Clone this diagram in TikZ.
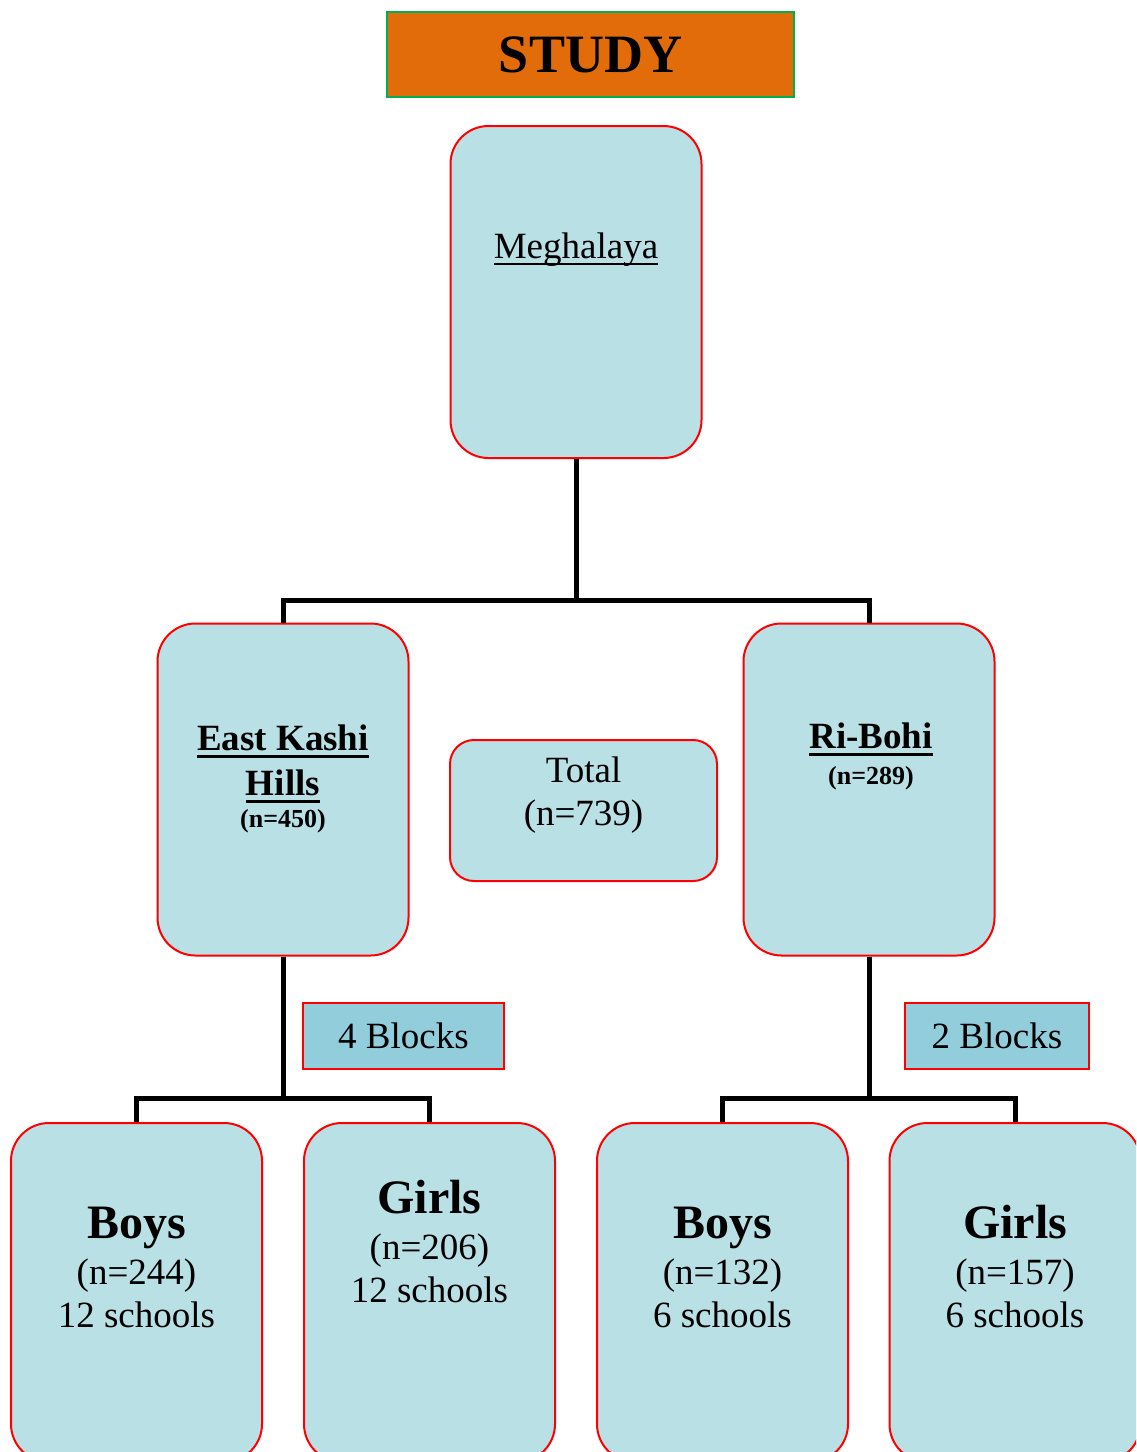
\documentclass[tikz,border=0pt]{standalone}
\usepackage{fontspec}
\setmainfont{Liberation Serif}
\usetikzlibrary{positioning}
\definecolor{boxfill}{RGB}{185,224,229}
\definecolor{blockfill}{RGB}{146,205,220}
\definecolor{studyfill}{RGB}{227,108,10}
\definecolor{studyline}{RGB}{0,176,80}
\newcommand{\ulin}[2][3pt]{\setbox0\hbox{#2}\rlap{\rule[\dimexpr-4.5pt-#1\relax]{\wd0}{#1}}\box0}

\begin{document}
\begin{tikzpicture}[x=1pt, y=-1pt,
  region/.style={draw=red, line width=2pt, fill=boxfill, rounded corners=38pt, minimum width=251pt, minimum height=332pt, inner sep=0pt},
  leaf/.style={region, minimum height=339pt},
  totalbox/.style={region, rounded corners=24pt, minimum width=267pt, minimum height=141pt},
  blocks/.style={draw=red, line width=2pt, fill=blockfill, minimum height=66pt, inner sep=0pt, font=\fontsize{37}{43}\selectfont},
  title/.style={draw=studyline, line width=2pt, fill=studyfill, minimum width=407pt, minimum height=85pt, inner sep=0pt, font=\fontsize{54}{60}\selectfont\bfseries},
  lbl/.style={anchor=base, align=center, inner sep=0pt, font=\fontsize{37}{43}\selectfont},
  link/.style={line width=5pt}
]
\path[use as bounding box, clip] (0,0) rectangle (1136,1452);

% title and top level
\node[title] (study) at (590.5,54.5) {STUDY};
\node[region] (megh) at (576,292) {};
\node[lbl] (meghtxt) at (576,258) {\ulin[2pt]{Meghalaya}};

% districts (text nodes sit on the baseline of their last line)
\node[region] (ekh) at (283,789.5) {};
\node[lbl, font=\fontsize{37}{43}\selectfont\bfseries] (ekhtxt) at (283,827)
  {\ulin{East Kashi}\\[2pt]\ulin{Hills}\\[-11pt]{\fontsize{26}{31}\selectfont (n=450)}};
\node[region] (ribohi) at (869,789.5) {};
\node[lbl, font=\fontsize{37}{43}\selectfont\bfseries] (ribohitxt) at (871,784)
  {\ulin{Ri-Bohi}\\[-7pt]{\fontsize{26}{31}\selectfont (n=289)}};
\node[totalbox] (total) at (583.5,810.5) {};
\node[lbl] (totaltxt) at (583.5,825) {Total\\(n=739)};

% blocks
\node[blocks, minimum width=201pt] (blk4) at (403.5,1036) {4 Blocks};
\node[blocks, minimum width=184pt] (blk2) at (997,1036) {2 Blocks};

% schools
\node[leaf] (boys1) at (136.5,1292.5) {};
\node[leaf] (girls1) at (429.5,1292.5) {};
\node[leaf] (boys2) at (722.5,1292.5) {};
\node[leaf] (girls2) at (1015,1292.5) {};
\node[lbl] (boys1txt) at (136.5,1327) {{\fontsize{48}{50}\selectfont\bfseries Boys}\\[3pt](n=244)\\12 schools};
\node[lbl] (girls1txt) at (429.5,1302) {{\fontsize{48}{50}\selectfont\bfseries Girls}\\[3pt](n=206)\\12 schools};
\node[lbl] (boys2txt) at (722.5,1327) {{\fontsize{48}{50}\selectfont\bfseries Boys}\\[3pt](n=132)\\6 schools};
\node[lbl] (girls2txt) at (1015,1327) {{\fontsize{48}{50}\selectfont\bfseries Girls}\\[3pt](n=157)\\6 schools};

% connectors
\coordinate (topfork) at (576,600);
\coordinate (ekhfork) at (283,1098);
\coordinate (ribohifork) at (869,1098);
\draw[link] (megh.south) -- (topfork);
\draw[link] (ekh.north) |- (topfork) -| (ribohi.north);
\draw[link] (ekh.south) -- (ekhfork);
\draw[link] (boys1.north) |- (ekhfork) -| (girls1.north);
\draw[link] (ribohi.south) -- (ribohifork);
\draw[link] (boys2.north) |- (ribohifork) -| (girls2.north);
\end{tikzpicture}
\end{document}
